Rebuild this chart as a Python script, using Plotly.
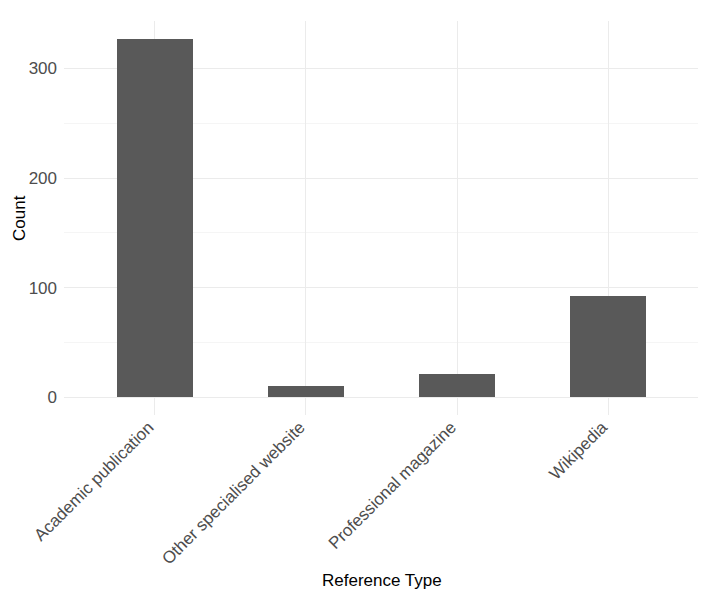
import plotly.graph_objects as go

categories = ["Academic publication", "Other specialised website", "Professional magazine", "Wikipedia"]
counts = [327, 10, 21, 92]

# The page body has an 8px default margin; compensate so the plot lands where the reference has it.
OFF = 8
W, H = 706 - OFF, 605 - OFF
L, R, T, B = 64 - OFF, 7, 21 - OFF, 190 - OFF + 8
plot_h = H - T - B
plot_w = W - L - R
bottom_px = OFF + H - B  # absolute y of plot bottom

fig = go.Figure(go.Bar(
    x=categories, y=counts, width=0.5,
    marker=dict(color="#595959", line=dict(width=0)),
))

ymax = max(counts)
pad = ymax * 0.05

fig.update_layout(
    width=W, height=H,
    margin=dict(l=L, r=R, t=T, b=B),
    paper_bgcolor="white", plot_bgcolor="white",
    font=dict(family="Liberation Sans, Arial, Helvetica, sans-serif", size=17, color="#4d4d4d"),
    showlegend=False,
    bargap=0,
    xaxis=dict(
        type="category",
        range=[-0.6, len(categories) - 0.4],
        showgrid=True, gridcolor="#ebebeb", gridwidth=1,
        zeroline=False, showline=False, ticks="",
        tickangle=-45,
        ticklabelshift=-6,
        ticklabelstandoff=-2,
        tickfont=dict(size=17, color="#4d4d4d"),
        automargin=False,
    ),
    yaxis=dict(
        range=[-pad, ymax + pad],
        tickvals=[0, 100, 200, 300],
        showgrid=True, gridcolor="#ebebeb", gridwidth=1,
        minor=dict(tickvals=[50, 150, 250], showgrid=True, gridcolor="#f5f5f5", gridwidth=1),
        zeroline=False, showline=False, ticks="",
        ticklabelstandoff=6,
        tickfont=dict(size=17, color="#4d4d4d"),
        automargin=False,
    ),
    annotations=[
        dict(text="Reference Type", xref="paper", yref="paper",
             x=0.5, y=-(580 - bottom_px) / plot_h, xanchor="center", yanchor="middle",
             showarrow=False, font=dict(size=17, color="black")),
        dict(text="Count", xref="paper", yref="paper",
             x=-(L + OFF - 19) / plot_w, y=0.5, xanchor="center", yanchor="middle",
             textangle=-90, showarrow=False, font=dict(size=17, color="black")),
    ],
)

fig.write_html("out.html")
